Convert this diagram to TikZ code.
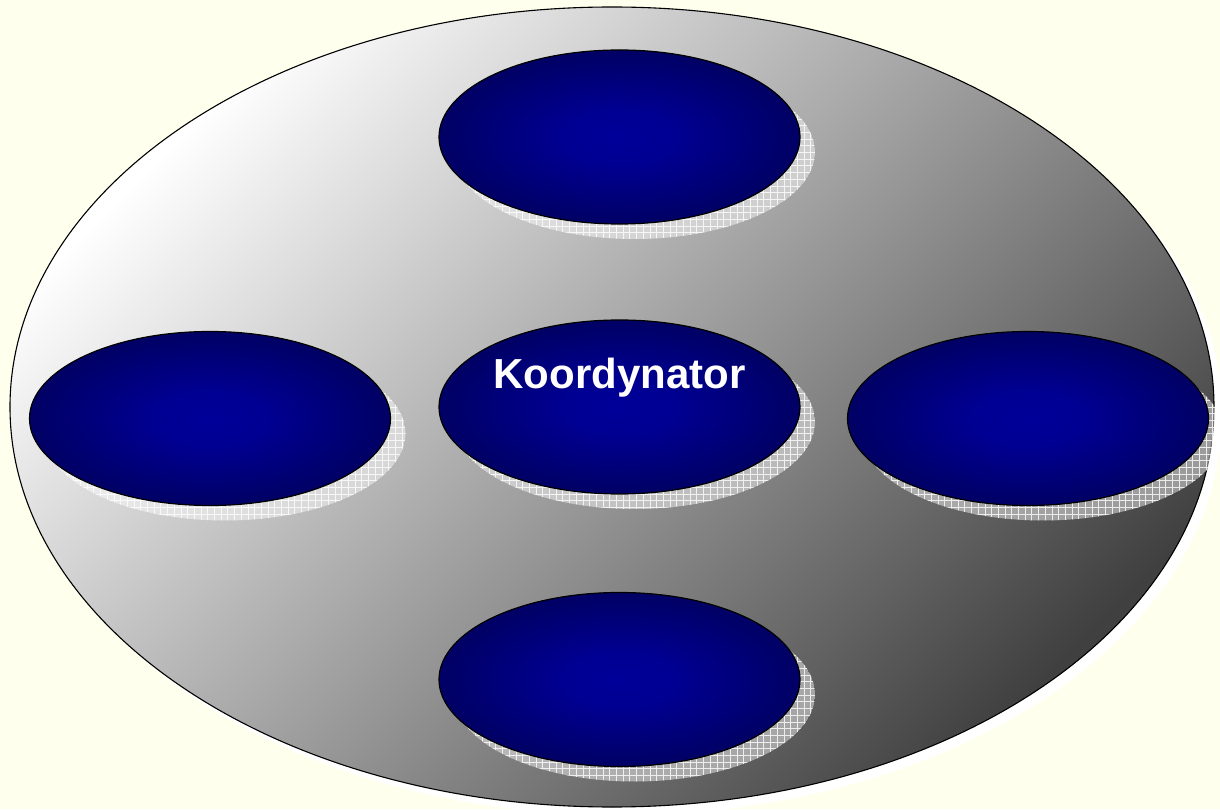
\documentclass[tikz,border=0pt]{standalone}
\usepackage{fontspec}
\setmainfont{Liberation Sans}
\usetikzlibrary{shapes.geometric}
\definecolor{bgyellow}{HTML}{FFFFEE}
\pgfdeclareradialshading{navyglow}{\pgfpointorigin}{rgb(0bp)=(0,0,0.6); rgb(8bp)=(0,0,0.57); rgb(32bp)=(0,0,0.32); rgb(50bp)=(0,0,0.14)}
\tikzset{
  plate/.style={ellipse, minimum width=1204, minimum height=800, inner sep=0pt,
    draw=black, line width=1.1pt, shade, top color=white, middle color=black!26, bottom color=black!75, shading angle=45},
  blob/.style={ellipse, minimum width=361, minimum height=174, inner sep=0pt,
    draw=black, line width=1.2pt, shade, shading=navyglow},
  blobshadow/.style={fill=white, opacity=0.45},
  shadowgrid/.style={draw=white, line width=0.7pt, opacity=0.8},
  caption/.style={text=white, font=\bfseries\fontsize{42}{50}\selectfont, inner sep=0pt, anchor=base}
}
\begin{document}
\begin{tikzpicture}[x=1pt,y=1pt]
\useasboundingbox (0,0) rectangle (1220,809);
\fill[bgyellow] (0,0) rectangle (1220,809);
% plate shadow
\fill[white] (620,394) ellipse (602 and 400);
\node[plate] (plate) at (612,402) {};
\foreach \n/\px/\py in {top/619.5/672, ctr/619.5/402, bot/619.5/129.5, lft/210/390.5, rgt/1028/390.5} {
  \begin{scope}
    \clip (\px+15,\py-15) ellipse (180.5 and 87);
    \fill[blobshadow] (\px+15,\py-15) ellipse (180.5 and 87);
    \draw[shadowgrid, step=6.7] (\px-170,\py-110) grid (\px+200,\py+80);
  \end{scope}
  \node[blob] (\n) at (\px,\py) {};
}
\node[caption] (koord) at (619.5,420) {Koordynator};
\end{tikzpicture}
\end{document}
